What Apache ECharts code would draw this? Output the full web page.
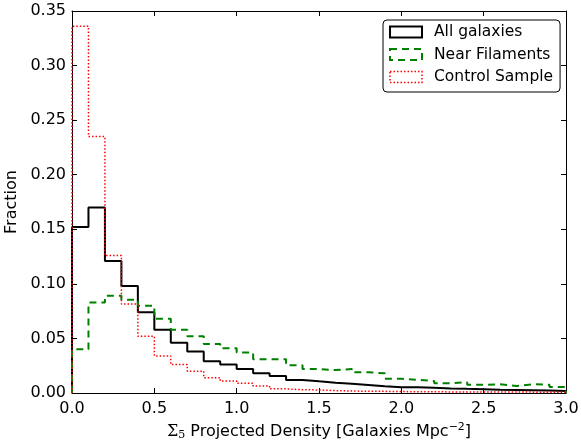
<!DOCTYPE html>
<html>
<head>
<meta charset="utf-8">
<script src="https://cdn.jsdelivr.net/npm/echarts@6/dist/echarts.min.js"></script>
<style>
html,body{margin:0;padding:0;background:#fff;}
#chart{width:581px;height:447px;}
</style>
</head>
<body>
<div id="chart"></div>
<script>
// Bin width of the histograms (bins run 0.0 .. 3.0)
const binWidth = 0.1;
const xTicks = [0.0, 0.5, 1.0, 1.5, 2.0, 2.5, 3.0];
const yTicks = [0.00, 0.05, 0.10, 0.15, 0.20, 0.25, 0.30, 0.35];
const seriesNames = ['All galaxies', 'Near Filaments', 'Control Sample'];

const allGalaxies = [0.152, 0.170, 0.121, 0.098, 0.074, 0.058, 0.046, 0.038, 0.029, 0.026,
  0.022, 0.018, 0.0155, 0.012, 0.0107, 0.0095, 0.0085, 0.0074, 0.0062, 0.0053,
  0.0052, 0.0048, 0.0042, 0.0038, 0.0035, 0.0030, 0.0028, 0.0025, 0.0022, 0.0018];
const nearFilaments = [0.040, 0.083, 0.089, 0.0855, 0.080, 0.068, 0.058, 0.052, 0.045, 0.041,
  0.037, 0.031, 0.031, 0.0255, 0.022, 0.021, 0.022, 0.019, 0.018, 0.013,
  0.012, 0.011, 0.009, 0.0098, 0.0075, 0.008, 0.0065, 0.008, 0.0075, 0.0055];
const controlSample = [0.336, 0.235, 0.126, 0.0815, 0.052, 0.034, 0.026, 0.020, 0.014, 0.011,
  0.009, 0.0065, 0.0038, 0.0030, 0.0028, 0.0022, 0.0018, 0.0016, 0.0015, 0.0013,
  0.0012, 0.0011, 0.0010, 0.0010, 0.0010, 0.0009, 0.0009, 0.0008, 0.0008, 0.0008];

function stepData(vals) {
  const d = [[0, 0]];
  vals.forEach((v, i) => d.push([+(i * binWidth).toFixed(2), v]));
  const xEnd = +(vals.length * binWidth).toFixed(2);
  d.push([xEnd, vals[vals.length - 1]]);
  d.push([xEnd, 0]);
  return d;
}

const FONT = 'DejaVu Sans';
const xMin = xTicks[0], xMax = xTicks[xTicks.length - 1], xInt = xTicks[1] - xTicks[0];
const yMin = yTicks[0], yMax = yTicks[yTicks.length - 1], yInt = +(yTicks[1] - yTicks[0]).toFixed(2);

const axisCommon = {
  axisLine: {show: true, onZero: false, lineStyle: {color: '#000', width: 1}},
  axisTick: {show: true, inside: true, length: 5, lineStyle: {color: '#000', width: 1}},
  splitLine: {show: false}
};

const chart = echarts.init(document.getElementById('chart'), null, {renderer: 'canvas'});
chart.setOption({
  backgroundColor: '#fff',
  animation: false,
  grid: {left: 72, right: 15, top: 11, bottom: 54, containLabel: false, outerBoundsMode: 'none'},
  legend: {
    orient: 'vertical',
    left: 383, top: 20,
    padding: [3, 7, 6, 6],
    itemWidth: 32, itemHeight: 11, itemGap: 4.5,
    borderColor: '#000', borderWidth: 1, borderRadius: 4,
    backgroundColor: '#fff',
    textStyle: {fontFamily: FONT, fontSize: 15.5, color: '#000', lineHeight: 18, padding: [0, 0, 0, 7]},
    data: [
      {name: seriesNames[0], icon: 'rect', itemStyle: {color: 'rgba(0,0,0,0)', borderColor: '#000', borderWidth: 2, borderType: 'solid'}},
      {name: seriesNames[1], icon: 'rect', itemStyle: {color: 'rgba(0,0,0,0)', borderColor: '#008000', borderWidth: 2, borderType: [7, 5]}},
      {name: seriesNames[2], icon: 'rect', itemStyle: {color: 'rgba(0,0,0,0)', borderColor: '#ff0000', borderWidth: 1.5, borderType: [1.5, 2]}}
    ]
  },
  xAxis: [
    Object.assign({}, axisCommon, {
      type: 'value', position: 'bottom', min: xMin, max: xMax, interval: xInt,
      axisLabel: {show: true, margin: 8, fontFamily: FONT, fontSize: 16, color: '#000',
        formatter: v => v.toFixed(1)},
      name: '{sig|Σ}{sub|5} Projected Density [Galaxies Mpc{sup|−2}]',
      nameLocation: 'middle', nameGap: 28,
      nameTextStyle: {
        fontFamily: FONT, fontSize: 16, color: '#000',
        rich: {
          sig: {fontFamily: 'DejaVu Serif', fontSize: 16, color: '#000'},
          sub: {fontFamily: 'DejaVu Serif', fontSize: 11, color: '#000', padding: [8, 0, 0, 0]},
          sup: {fontFamily: FONT, fontSize: 11, color: '#000', padding: [0, 0, 8, 0]}
        }
      }
    }),
    Object.assign({}, axisCommon, {
      type: 'value', position: 'top', min: xMin, max: xMax, interval: xInt,
      axisLabel: {show: false}
    })
  ],
  yAxis: [
    Object.assign({}, axisCommon, {
      type: 'value', position: 'left', min: yMin, max: yMax, interval: yInt,
      axisLabel: {show: true, margin: 6, fontFamily: FONT, fontSize: 16, color: '#000',
        formatter: v => v.toFixed(2)},
      name: 'Fraction', nameLocation: 'middle', nameGap: 42, nameRotate: 90,
      nameTextStyle: {fontFamily: FONT, fontSize: 16, color: '#000'}
    }),
    Object.assign({}, axisCommon, {
      type: 'value', position: 'right', min: yMin, max: yMax, interval: yInt,
      axisLabel: {show: false}
    })
  ],
  series: [
    {name: seriesNames[0], type: 'line', step: 'end', data: stepData(allGalaxies),
      showSymbol: false, symbol: 'none', color: '#000',
      lineStyle: {color: '#000', width: 2, type: 'solid'}, z: 2},
    {name: seriesNames[1], type: 'line', step: 'end', data: stepData(nearFilaments),
      showSymbol: false, symbol: 'none', color: '#008000',
      lineStyle: {color: '#008000', width: 2, type: [7, 5]}, z: 3},
    {name: seriesNames[2], type: 'line', step: 'end', data: stepData(controlSample),
      showSymbol: false, symbol: 'none', color: '#ff0000',
      lineStyle: {color: '#ff0000', width: 1.5, type: [1.5, 2]}, z: 4}
  ]
});
</script>
</body>
</html>
